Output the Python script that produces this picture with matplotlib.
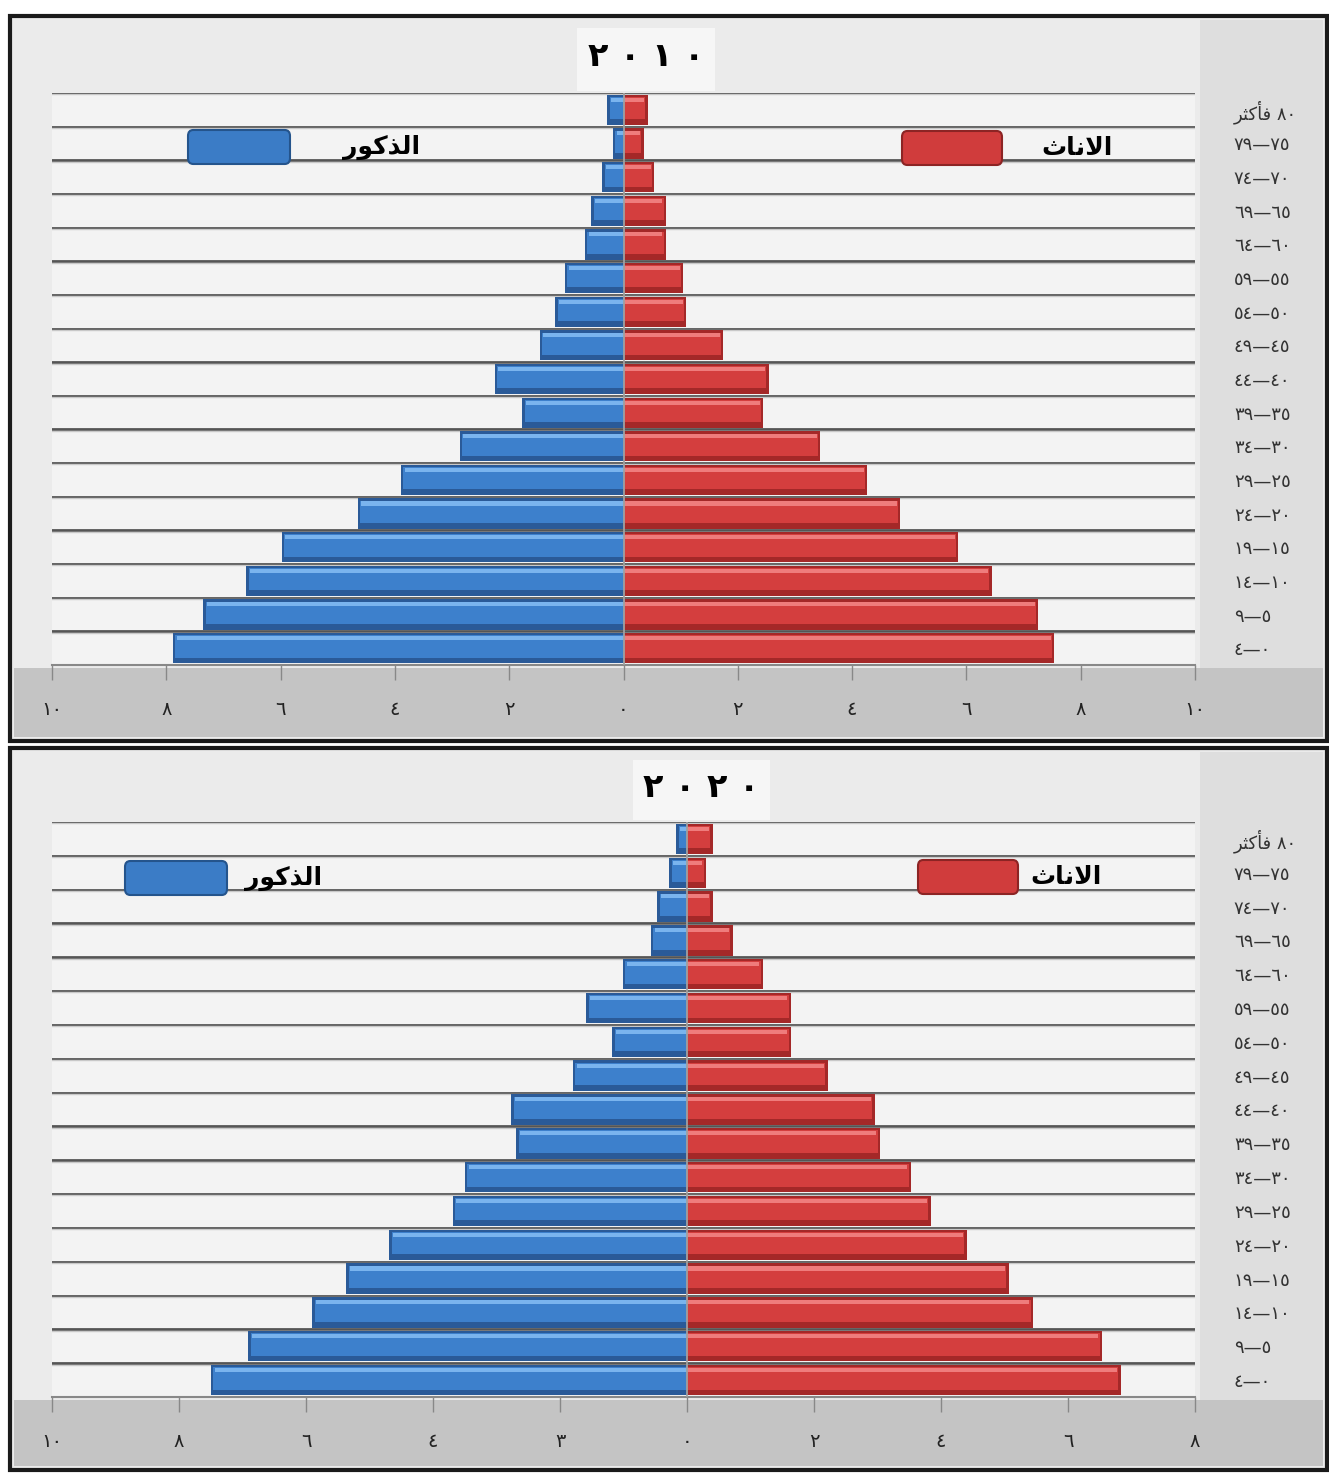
import numpy as np
import matplotlib.pyplot as plt
from matplotlib.patches import Rectangle, FancyBboxPatch

# age groups, youngest first (visual order of the Arabic labels)
ages = ["٤—٠", "٩—٥", "١٤—١٠", "١٩—١٥", "٢٤—٢٠", "٢٩—٢٥", "٣٤—٣٠", "٣٩—٣٥",
        "٤٤—٤٠", "٤٩—٤٥", "٥٤—٥٠", "٥٩—٥٥", "٦٤—٦٠", "٦٩—٦٥", "٧٤—٧٠", "٧٩—٧٥",
        "\uFEAE\uFE9C\uFEDB\uFE84\uFED3 ٨٠"]

male_2010 = [7.88, 7.35, 6.6, 5.98, 4.65, 3.89, 2.86, 1.77, 2.25, 1.46, 1.19, 1.02, 0.67, 0.56, 0.37, 0.18, 0.28]
female_2010 = [7.54, 7.26, 6.44, 5.86, 4.84, 4.26, 3.44, 2.44, 2.54, 1.74, 1.1, 1.04, 0.74, 0.74, 0.54, 0.35, 0.42]
male_2020 = [7.5, 6.91, 5.9, 5.37, 4.69, 3.69, 3.5, 2.69, 2.77, 1.8, 1.18, 1.59, 1.01, 0.57, 0.47, 0.28, 0.17]
female_2020 = [6.83, 6.54, 5.45, 5.07, 4.41, 3.84, 3.53, 3.04, 2.96, 2.22, 1.64, 1.64, 1.2, 0.72, 0.41, 0.3, 0.41]

ticks_2010 = [-10, -8, -6, -4, -2, 0, 2, 4, 6, 8, 10]
ticklabels_2010 = ["١٠", "٨", "٦", "٤", "٢", "٠", "٢", "٤", "٦", "٨", "١٠"]
ticks_2020 = [-10, -8, -6, -4, -2, 0, 2, 4, 6, 8]
ticklabels_2020 = ["١٠", "٨", "٦", "٤", "٣", "٠", "٢", "٤", "٦", "٨"]

title_2010 = "٢ ٠ ١ ٠"
title_2020 = "٢ ٠ ٢ ٠"
lbl_male = "\uFEAD\uFEEE\uFEDB\uFEAC\uFEDF\uFE8D"      # الذكور
lbl_female = "\uFE99\uFE8E\uFEE7\uFEFB\uFE8D"           # الاناث

W, H = 1329, 1476
fig = plt.figure(figsize=(W / 100, H / 100), dpi=100)
fig.patch.set_facecolor('white')


def fx(x):
    return x / W


def fy(y):
    return 1 - y / H


def rect(x0, y0, x1, y1, **kw):
    # rectangle in pixel coords (top-left origin), drawn behind the axes
    fig.patches.append(Rectangle((fx(x0), fy(y1)), fx(x1) - fx(x0), fy(y0) - fy(y1),
                                 transform=fig.transFigure, zorder=-5, **kw))


def legend_box(x0, y0, x1, y1, color, edge):
    fig.patches.append(FancyBboxPatch((fx(x0), fy(y1)), fx(x1) - fx(x0), fy(y0) - fy(y1),
                                      boxstyle="round,pad=0,rounding_size=0.004",
                                      transform=fig.transFigure, fc=color, ec=edge, lw=1.5,
                                      zorder=5))


def panel(top, bot, ax_top, ax_bot, title, title_box, leg):
    # panel frame and backgrounds
    rect(10, top, 1327, bot, fc='#ebebeb', ec='#1a1a1a', lw=3)
    rect(14, ax_bot + 3, 1323, bot - 4, fc='#c4c4c4', ec='none')
    rect(1200, top + 4, 1323, ax_bot + 3, fc='#dedede', ec='none')
    rect(title_box[0], top + 12, title_box[1], ax_top - 2, fc='#f6f6f6', ec='none')
    fig.text(fx((title_box[0] + title_box[1]) / 2), fy((top + ax_top) / 2 + 2), title,
             ha='center', va='center', fontsize=24, fontweight='bold', color='black')
    # legend entries
    (mb, mt, fb, ft) = leg
    y0, y1 = mb[1], mb[1] + 34
    legend_box(mb[0], y0, mb[0] + 102, y1, '#3b7cc6', '#24548c')
    fig.text(fx(mt), fy((y0 + y1) / 2), lbl_male, ha='right', va='center',
             fontsize=18, fontweight='bold', color='black', zorder=6)
    legend_box(fb[0], fb[1], fb[0] + 100, fb[1] + 34, '#d03c3c', '#8c2424')
    fig.text(fx(ft), fy(fb[1] + 17), lbl_female, ha='right', va='center',
             fontsize=18, fontweight='bold', color='black', zorder=6)


def pyramid(ax, male, female, xlim, ticks, ticklabels):
    y = np.arange(len(ages))
    male = np.array(male)
    female = np.array(female)
    ax.set_facecolor('#f3f3f3')
    # 3D-ish bars: dark base, main body, light highlight
    ax.barh(y, -male, height=0.9, color='#2a5a98', zorder=3)
    ax.barh(y + 0.05, -male + 0.04, height=0.66, color='#3d80cc', zorder=4)
    ax.barh(y + 0.3, -male + 0.06, height=0.12, color='#7ab4ee', zorder=5)
    ax.barh(y, female, height=0.9, color='#a42828', zorder=3)
    ax.barh(y + 0.05, female - 0.04, height=0.66, color='#d43e3e', zorder=4)
    ax.barh(y + 0.3, female - 0.06, height=0.12, color='#ef7c7c', zorder=5)
    ax.axvline(0, color='#a0a0a0', lw=1.3, zorder=6)
    ax.set_xlim(*xlim)
    ax.set_ylim(-0.5, len(ages) - 0.5)
    # row separators
    for b in np.arange(-0.5, len(ages), 1.0)[1:]:
        ax.axhline(b, color='#555555', lw=2, zorder=1)
        ax.axhline(b - 0.04, color='#c8c8c8', lw=1, zorder=1)
    ax.set_xticks(ticks)
    ax.set_xticklabels(ticklabels, fontsize=14, color='#222222')
    ax.tick_params(axis='x', direction='out', length=11, width=1, color='#888888', pad=14)
    ax.yaxis.tick_right()
    ax.set_yticks(y)
    ax.set_yticklabels(ages, fontsize=13, color='#333333', ha='left')
    ax.tick_params(axis='y', length=0, pad=28)
    for s in ['top', 'left', 'right']:
        ax.spines[s].set_visible(False)
    ax.spines['bottom'].set_color('#888888')
    ax.spines['bottom'].set_linewidth(1.5)


# ---- 2010 ----
panel(16, 741, 93, 665, title_2010, (577, 715),
      ((188, 130), 420, (902, 131), 1113))
ax1 = fig.add_axes([fx(52), fy(665), fx(1195) - fx(52), fy(93) - fy(665)])
pyramid(ax1, male_2010, female_2010, (-10, 10), ticks_2010, ticklabels_2010)

# ---- 2020 ----
panel(748, 1470, 822, 1397, title_2020, (633, 770),
      ((125, 861), 322, (918, 860), 1102))
ax2 = fig.add_axes([fx(52), fy(1397), fx(1195) - fx(52), fy(822) - fy(1397)])
pyramid(ax2, male_2020, female_2020, (-10, 8), ticks_2020, ticklabels_2020)

fig.savefig('out.png', dpi=100)
